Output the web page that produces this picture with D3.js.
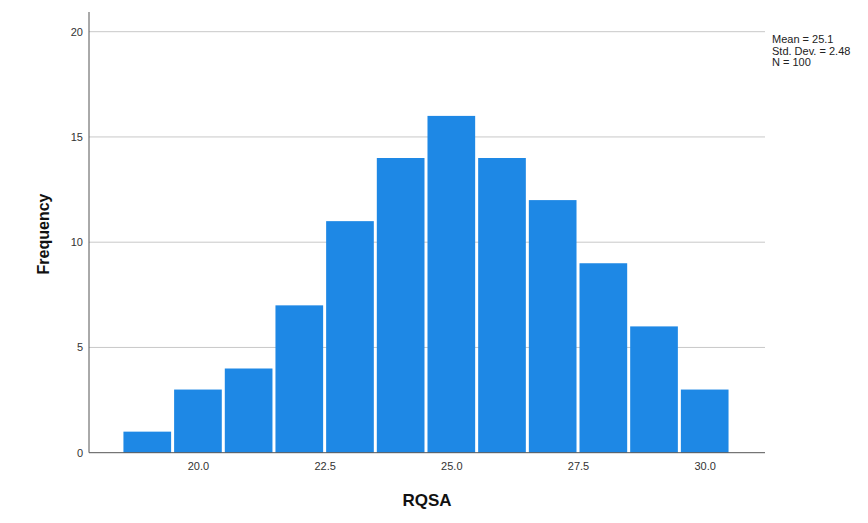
<!DOCTYPE html>
<html>
<head>
<meta charset="utf-8">
<script src="https://cdn.jsdelivr.net/npm/d3@7"></script>
<style>
  html, body { margin: 0; padding: 0; background: #fff; }
  svg { display: block; font-family: Arial, "Liberation Sans", sans-serif; }
</style>
</head>
<body>
<svg id="chart" width="868" height="523"></svg>
<script>
// Histogram of RQSA: bin centres (width 1) and their frequencies
const binCenters = [19, 20, 21, 22, 23, 24, 25, 26, 27, 28, 29, 30];
const frequencies = [1, 3, 4, 7, 11, 14, 16, 14, 12, 9, 6, 3];
const binWidth = 1;
const xTicks = [20.0, 22.5, 25.0, 27.5, 30.0];
const yTicks = [0, 5, 10, 15, 20];
const statsLines = ["Mean = 25.1", "Std. Dev. = 2.48", "N = 100"];

const svg = d3.select("#chart");

const plotLeft = 89, plotRight = 765, plotBottom = 452.7, plotTop = 12;

const x = d3.scaleLinear().domain([17.85, 31.19]).range([plotLeft, plotRight]);
const y = d3.scaleLinear().domain([0, 20]).range([plotBottom, 31.7]);

// horizontal gridlines
svg.append("g")
  .selectAll("line")
  .data(yTicks.filter(d => d > 0))
  .join("line")
  .attr("x1", plotLeft).attr("x2", plotRight)
  .attr("y1", d => y(d)).attr("y2", d => y(d))
  .attr("stroke", "#c8c8c8").attr("stroke-width", 1);

// bars
svg.append("g")
  .selectAll("rect")
  .data(binCenters.map((c, i) => ({ c, n: frequencies[i] })))
  .join("rect")
  .attr("x", d => x(d.c - binWidth / 2) + 1.5)
  .attr("width", d => x(d.c + binWidth / 2) - x(d.c - binWidth / 2) - 3)
  .attr("y", d => y(d.n))
  .attr("height", d => y(0) - y(d.n))
  .attr("fill", "#1e88e5");

// y axis
const yAxis = svg.append("g")
  .attr("transform", `translate(${plotLeft},0)`)
  .call(d3.axisLeft(y).tickValues(yTicks).tickSize(0).tickPadding(6).tickFormat(d3.format("d")));
yAxis.select(".domain").remove();
yAxis.selectAll("text").attr("font-size", 11).attr("fill", "#333")
  .attr("font-family", "Arial, 'Liberation Sans', sans-serif");
svg.append("line")
  .attr("x1", plotLeft).attr("x2", plotLeft).attr("y1", plotTop).attr("y2", plotBottom)
  .attr("stroke", "#555").attr("stroke-width", 1);

// x axis
const xAxis = svg.append("g")
  .attr("transform", `translate(0,${plotBottom})`)
  .call(d3.axisBottom(x).tickValues(xTicks).tickSize(0).tickPadding(10).tickFormat(d3.format(".1f")));
xAxis.select(".domain").remove();
xAxis.selectAll("text").attr("font-size", 11).attr("fill", "#333")
  .attr("font-family", "Arial, 'Liberation Sans', sans-serif");
svg.append("line")
  .attr("x1", plotLeft).attr("x2", plotRight).attr("y1", plotBottom).attr("y2", plotBottom)
  .attr("stroke", "#555").attr("stroke-width", 1);

// axis titles
svg.append("text")
  .attr("x", (plotLeft + plotRight) / 2).attr("y", 506)
  .attr("text-anchor", "middle")
  .attr("font-size", 17).attr("font-weight", "bold").attr("fill", "#111")
  .text("RQSA");
svg.append("text")
  .attr("transform", "translate(49,234) rotate(-90)")
  .attr("text-anchor", "middle")
  .attr("font-size", 16).attr("font-weight", "bold").attr("fill", "#111")
  .text("Frequency");

// summary statistics
svg.append("g")
  .selectAll("text")
  .data(statsLines)
  .join("text")
  .attr("x", 772).attr("y", (d, i) => 43 + i * 11.5)
  .attr("font-size", 11).attr("fill", "#222")
  .text(d => d);
</script>
</body>
</html>
